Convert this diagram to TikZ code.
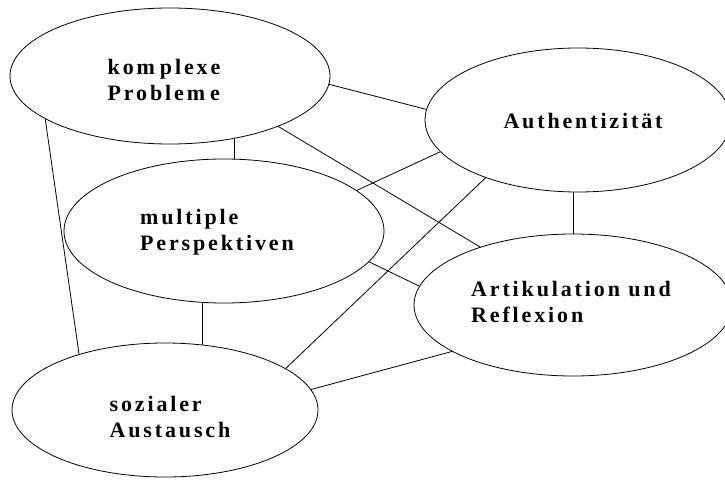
\documentclass[tikz,border=0pt]{standalone}
\usepackage{fontspec}
\setmainfont{Liberation Serif}[BoldFont={Liberation Serif Bold}]
\usetikzlibrary{shapes.geometric}
\tikzset{
  bubble/.style={ellipse, draw, line width=0.8pt, inner sep=0pt},
  txt/.style={inner sep=0pt, align=left,
    font=\fontsize{22pt}{26pt}\selectfont\bfseries\addfontfeatures{LetterSpace=13}},
  link/.style={line width=0.8pt}
}
\begin{document}
\begin{tikzpicture}[x=1pt,y=-1pt]
\useasboundingbox (0,0) rectangle (725,479);
\node[bubble, minimum width=320pt, minimum height=136pt] (K) at (170,76) {};
\node[bubble, minimum width=306pt, minimum height=144pt] (A) at (578,120) {};
\node[bubble, minimum width=320pt, minimum height=144pt] (M) at (224,231) {};
\node[bubble, minimum width=318pt, minimum height=142pt] (R) at (573,305) {};
\node[bubble, minimum width=306pt, minimum height=134pt] (S) at (165,410) {};

\node[txt] (Kt) at (164,79.5) {kom\kern5pt plexe\\Problem\kern5pt e};
\node[txt] (At) at (583,121) {Authentizität};
\node[txt] (Mt) at (217,232.5) {multiple\\Perspektiven};
\node[txt] (Rt) at (571,302) {Artikulation und\\Reflexion};
\node[txt] (St) at (170,416.5) {sozialer\\Austausch};

\draw[link] (K.-3.9) -- (A.176.6);
\draw[link] (K.-44.5) -- (K.-44.5 |- M.north);
\draw[link] (K.-25.5) -- (R.148.6);
\draw[link] (M.-12.2) -- (R.173.1);
\draw[link] (M.17.4) -- (A.-167.4);
\draw[link] (S.19.4) -- (A.-148.6);
\draw[link] (K.-161.7) -- (S.147.2);
\draw[link] (S.60.4) -- (S.60.4 |- M.south);
\draw[link] (R.north) -- (R.north |- A.south);
\draw[link] (S.8.6) -- (R.-159.9);
\end{tikzpicture}
\end{document}
